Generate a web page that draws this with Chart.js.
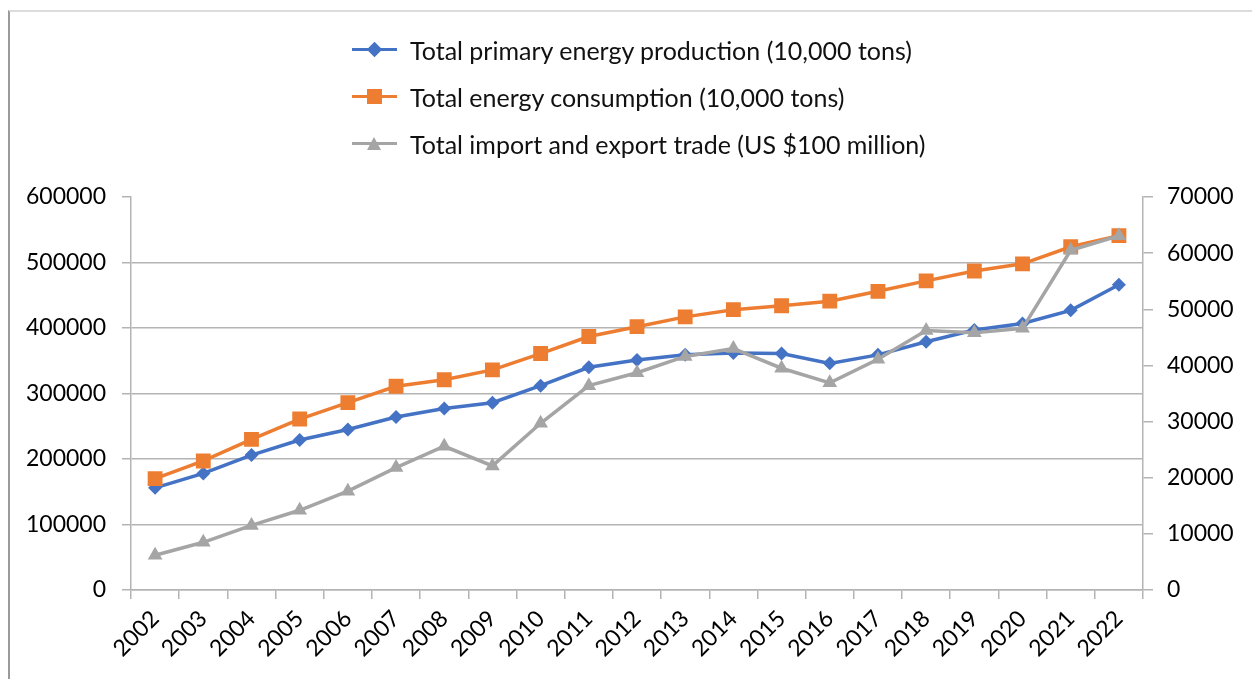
<!DOCTYPE html>
<html>
<head>
<meta charset="utf-8">
<script src="https://cdn.jsdelivr.net/npm/chart.js@4.4.1/dist/chart.umd.min.js"></script>
<style>
  html, body { margin: 0; padding: 0; background: #fff; }
  #wrap { position: relative; width: 1252px; height: 679px; }
  #frame { position: absolute; left: 8px; top: 10px; right: 0; bottom: 0; border-top: 2px solid #dcdcdc; border-left: 2px solid #9a9a9a; pointer-events: none; }
  #legend { position: absolute; left: 352px; top: 26px; font-family: Lato, sans-serif; font-size: 25px; color: #111; }
  .item { height: 47px; display: flex; align-items: center; }
  .key { position: relative; width: 45px; height: 20px; margin-right: 13px; }
  .key .ln { position: absolute; left: 0; right: 0; top: 8.5px; height: 3px; }
  .key .mk { position: absolute; }
</style>
</head>
<body>
<div id="wrap">
  <canvas id="line-graph"></canvas>
  <div id="legend"></div>
  <div id="frame"></div>
</div>
<script>
const years = ['2002', '2003', '2004', '2005', '2006', '2007', '2008', '2009', '2010', '2011', '2012',
  '2013', '2014', '2015', '2016', '2017', '2018', '2019', '2020', '2021', '2022'];

// left axis, 10,000 tons
const production = [156000, 178000, 206000, 229000, 245000, 264000, 277000, 286000, 312000, 340000, 351000,
  359000, 362000, 361000, 346000, 359000, 379000, 397000, 407000, 427000, 466000];
const consumption = [170000, 197000, 230000, 261000, 286000, 311000, 321000, 336000, 361000, 387000, 402000,
  417000, 428000, 434000, 441000, 456000, 472000, 487000, 498000, 524000, 541000];

// right axis, US $100 million
const trade = [6200, 8500, 11500, 14200, 17600, 21800, 25600, 22100, 29700, 36400, 38700,
  41600, 43000, 39500, 36900, 41100, 46200, 45800, 46600, 60500, 63100];

const seriesNames = ['Total primary energy production (10,000 tons)', 'Total energy consumption (10,000 tons)',
  'Total import and export trade (US $100 million)'];

const blue = '#4472C4';
const orange = '#ED7D31';
const gray = '#A5A5A5';
const axisGray = '#b4b4b4';
const tickFont = { family: 'Lato, sans-serif', size: 23 };

const ctx = document.getElementById('line-graph').getContext('2d');

const lineGraph = new Chart(ctx, {
  type: 'line',
  data: {
    labels: years,
    datasets: [{
      label: seriesNames[0],
      data: production,
      yAxisID: 'y',
      borderColor: blue,
      backgroundColor: blue,
      borderWidth: 3.5,
      pointStyle: 'rectRot',
      pointRadius: 7,
      pointBorderWidth: 0,
      order: 3
    }, {
      label: seriesNames[1],
      data: consumption,
      yAxisID: 'y',
      borderColor: orange,
      backgroundColor: orange,
      borderWidth: 3.5,
      pointStyle: 'rect',
      pointRadius: 10.5,
      pointBorderWidth: 0,
      order: 2
    }, {
      label: seriesNames[2],
      data: trade,
      yAxisID: 'y1',
      borderColor: gray,
      backgroundColor: gray,
      borderWidth: 3.5,
      pointStyle: 'triangle',
      pointRadius: 8.5,
      pointBorderWidth: 0,
      order: 1
    }]
  },
  options: {
    responsive: true,
    maintainAspectRatio: false,
    animation: false,
    layout: { padding: { top: 197, left: 8, right: 8, bottom: 8 } },
    plugins: {
      legend: { display: false },
      tooltip: { enabled: false }
    },
    scales: {
      x: {
        offset: true,
        grid: { offset: true, drawOnChartArea: false, color: axisGray, lineWidth: 1.5, tickLength: 9 },
        border: { color: axisGray, width: 1.5 },
        ticks: { autoSkip: false, minRotation: 45, maxRotation: 45, color: '#000', font: tickFont, padding: 6 },
        afterFit: s => { s.height = 679 - 590 - 8; }
      },
      y: {
        position: 'left',
        min: 0,
        max: 600000,
        ticks: { stepSize: 100000, color: '#000', font: tickFont, padding: 16, callback: v => String(v) },
        grid: {
          color: c => c.tick && c.tick.value === 600000 ? 'rgba(0,0,0,0)' : axisGray,
          tickColor: axisGray,
          lineWidth: 1.5,
          tickLength: 9
        },
        border: { color: axisGray, width: 1.5 },
        afterFit: s => { s.width = 131 - 8; }
      },
      y1: {
        position: 'right',
        min: 0,
        max: 70000,
        ticks: { stepSize: 10000, color: '#000', font: tickFont, padding: 14, callback: v => String(v) },
        grid: { drawOnChartArea: false, color: axisGray, lineWidth: 1.5, tickLength: 10 },
        border: { color: axisGray, width: 1.5 },
        afterFit: s => { s.width = 1252 - 8 - 1143; }
      }
    }
  }
});

// legend, one row per series, markers like the chart
const markers = [
  '<span class="mk" style="left:17px;top:4.5px;width:11px;height:11px;background:' + blue + ';transform:rotate(45deg)"></span>',
  '<span class="mk" style="left:15px;top:2.5px;width:15px;height:15px;background:' + orange + '"></span>',
  '<span class="mk" style="left:15px;top:3px;width:0;height:0;border-left:7.5px solid transparent;border-right:7.5px solid transparent;border-bottom:13px solid ' + gray + '"></span>'
];
const lineColors = [blue, orange, gray];
document.getElementById('legend').innerHTML = seriesNames.map((name, i) =>
  '<div class="item"><span class="key"><span class="ln" style="background:' + lineColors[i] + '"></span>' +
  markers[i] + '</span><span>' + name + '</span></div>').join('');
</script>
</body>
</html>
